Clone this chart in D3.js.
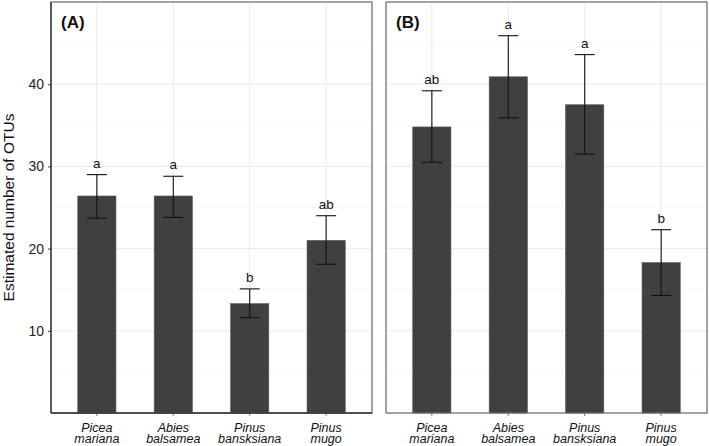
<!DOCTYPE html>
<html><head><meta charset="utf-8">
<script src="https://cdn.jsdelivr.net/npm/d3@7"></script>
<style>body{margin:0;background:#fff}svg{display:block}</style>
</head><body>
<svg id="c" width="709" height="446"></svg>
<script>
const categories = [["Picea","mariana"],["Abies","balsamea"],["Pinus","bansksiana"],["Pinus","mugo"]];
const panelLabels = ["(A)","(B)"];
const meansA = [26.4, 26.4, 13.3, 21.0];
const upperA = [29.0, 28.8, 15.1, 24.0];
const lowerA = [23.7, 23.8, 11.6, 18.1];
const lettersA = ["a","a","b","ab"];
const meansB = [34.8, 40.9, 37.5, 18.3];
const upperB = [39.2, 45.9, 43.6, 22.3];
const lowerB = [30.5, 35.9, 31.5, 14.3];
const lettersB = ["ab","a","a","b"];
const yTicks = [10, 20, 30, 40];
const yMinor = [5, 15, 25, 35, 45];
const yTitle = "Estimated number of OTUs";

const svg = d3.select("#c");
const plotTop = 2, plotBottom = 413;
const y = d3.scaleLinear().domain([0, 50]).range([plotBottom, plotTop]);
const panels = [
  {x0: 51, x1: 372, means: meansA, up: upperA, lo: lowerA, letters: lettersA, label: panelLabels[0], axis: true},
  {x0: 386, x1: 707, means: meansB, up: upperB, lo: lowerB, letters: lettersB, label: panelLabels[1], axis: false}
];
const font = "Liberation Sans, Arial, sans-serif";

panels.forEach(p => {
  const idx = d3.range(categories.length);
  const x = d3.scalePoint().domain(idx).range([p.x0, p.x1]).padding(0.6);
  const bw = x.step();
  const cx = i => x(i);
  const g = svg.append("g");
  g.selectAll(".mn").data(yMinor).join("line")
    .attr("x1", p.x0).attr("x2", p.x1).attr("y1", d => y(d)).attr("y2", d => y(d))
    .attr("stroke", "#f2f2f2").attr("stroke-width", 0.6);
  g.selectAll(".mj").data(yTicks).join("line")
    .attr("x1", p.x0).attr("x2", p.x1).attr("y1", d => y(d)).attr("y2", d => y(d))
    .attr("stroke", "#e6e6e6").attr("stroke-width", 0.9);
  g.selectAll(".vg").data(idx).join("line")
    .attr("x1", cx).attr("x2", cx).attr("y1", plotTop).attr("y2", plotBottom)
    .attr("stroke", "#e6e6e6").attr("stroke-width", 0.9);
  g.selectAll(".bar").data(p.means).join("rect")
    .attr("x", (d, i) => cx(i) - bw * 0.25).attr("width", bw * 0.5)
    .attr("y", d => y(d)).attr("height", d => plotBottom - y(d))
    .attr("fill", "#404040").attr("stroke", "#595959").attr("stroke-width", 0.6);
  idx.forEach(i => {
    const c = cx(i), hw = 10;
    g.append("line").attr("x1", c).attr("x2", c).attr("y1", y(p.up[i])).attr("y2", y(p.lo[i])).attr("stroke", "#111").attr("stroke-width", 1.1);
    g.append("line").attr("x1", c - hw).attr("x2", c + hw).attr("y1", y(p.up[i])).attr("y2", y(p.up[i])).attr("stroke", "#111").attr("stroke-width", 1.1);
    g.append("line").attr("x1", c - hw).attr("x2", c + hw).attr("y1", y(p.lo[i])).attr("y2", y(p.lo[i])).attr("stroke", "#111").attr("stroke-width", 1.1);
    g.append("text").attr("x", c).attr("y", y(p.up[i]) - 7).attr("text-anchor", "middle")
      .attr("font-family", font).attr("font-size", 13.5).attr("fill", "#111").text(p.letters[i]);
    const t = g.append("text").attr("text-anchor", "middle").attr("font-family", font)
      .attr("font-size", 12.5).attr("font-style", "italic").attr("fill", "#111");
    t.append("tspan").attr("x", c).attr("y", 432).text(categories[i][0]);
    t.append("tspan").attr("x", c).attr("y", 443).text(categories[i][1]);
    g.append("line").attr("x1", c).attr("x2", c).attr("y1", plotBottom).attr("y2", plotBottom + 3).attr("stroke", "#555").attr("stroke-width", 0.8);
  });
  g.append("rect").attr("x", p.x0).attr("y", plotTop).attr("width", p.x1 - p.x0).attr("height", plotBottom - plotTop)
    .attr("fill", "none").attr("stroke", "#666").attr("stroke-width", 1.2);
  if (p.axis) {
    g.append("line").attr("x1", p.x0).attr("x2", p.x0).attr("y1", plotTop).attr("y2", plotBottom).attr("stroke", "#333").attr("stroke-width", 1.3);
    g.append("line").attr("x1", p.x0).attr("x2", p.x1).attr("y1", plotBottom).attr("y2", plotBottom).attr("stroke", "#333").attr("stroke-width", 1.3);
    const ax = g.append("g").attr("transform", `translate(${p.x0},0)`)
      .call(d3.axisLeft(y).tickValues(yTicks).tickSize(3).tickPadding(4));
    ax.select(".domain").remove();
    ax.selectAll("text").attr("font-family", font).attr("font-size", 14).attr("fill", "#222");
    ax.selectAll("line").attr("stroke", "#333");
  }
  g.append("text").attr("x", p.x0 + 10).attr("y", plotTop + 26).attr("font-family", font)
    .attr("font-size", 17).attr("font-weight", "bold").attr("fill", "#111").text(p.label);
});

svg.append("text").attr("transform", `translate(14,${(plotTop + plotBottom) / 2}) rotate(-90)`)
  .attr("text-anchor", "middle").attr("font-family", font).attr("font-size", 15.5).attr("fill", "#111").text(yTitle);
</script>
</body></html>
